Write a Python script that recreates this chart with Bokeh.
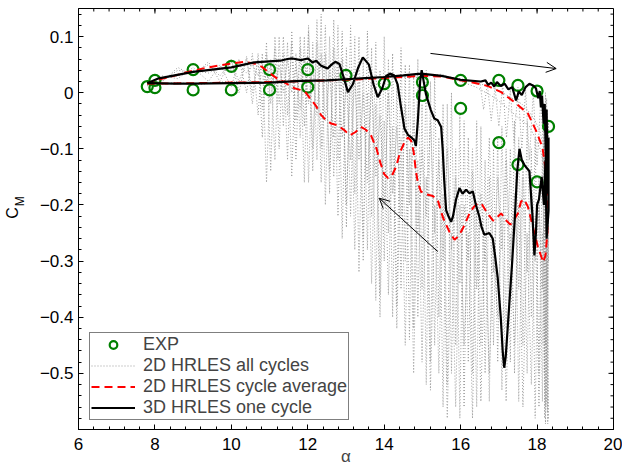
import numpy as np
from bokeh.plotting import figure
from bokeh.layouts import row
from bokeh.models import (Range1d, FixedTicker, CustomJSTickFormatter, Legend,
                          LegendItem, Arrow, OpenHead)
from bokeh.core.properties import value
from bokeh.embed import file_html
from bokeh.resources import INLINE

# ---------------- data ----------------
x_ticks = [6, 8, 10, 12, 14, 16, 18, 20]
y_ticks = [-0.5, -0.4, -0.3, -0.2, -0.1, 0.0, 0.1]

exp_alpha = [7.8, 8.0, 8.0, 9.0, 9.0, 10.0, 10.0, 11.0, 11.0, 12.0, 12.0, 13.0, 14.0,
             15.0, 15.0, 16.0, 16.0, 17.0, 17.0, 17.5, 17.5, 18.0, 18.0, 18.3]
exp_cm = [0.011, 0.009, 0.022, 0.005, 0.041, 0.005, 0.047, 0.005, 0.041, 0.010, 0.041, 0.031,
          0.016, 0.019, -0.005, 0.022, -0.028, 0.022, -0.089, 0.013, -0.128, 0.003, -0.159, -0.060]

# 2D HRLES all cycles (gray dotted) - downstroke traces share this alpha list
gray_alpha = [18.30, 18.22, 18.14, 18.05, 17.95, 17.85, 17.74, 17.63, 17.52, 17.41, 17.30, 17.19,
              17.08, 16.97, 16.86, 16.75, 16.64, 16.53, 16.42, 16.31, 16.20, 16.09, 15.98, 15.87,
              15.76, 15.65, 15.54, 15.43, 15.32, 15.21, 15.10, 14.99, 14.88, 14.77, 14.66, 14.55,
              14.44, 14.33, 14.22, 14.11, 14.00, 13.89, 13.78, 13.67, 13.56, 13.45, 13.34, 13.23,
              13.12, 13.01, 12.90, 12.79, 12.68, 12.57, 12.46, 12.35, 12.24, 12.13, 12.02, 11.91,
              11.80, 11.69, 11.58, 11.47, 11.36, 11.25, 11.14, 11.03, 10.92, 10.81, 10.70, 10.55,
              10.40, 10.20, 10.00, 9.70, 9.40, 9.00, 8.60, 8.20, 7.80]
gray_c1 = [-0.05, -0.45, -0.10, -0.50, -0.08, -0.40, -0.05, -0.45, -0.08, -0.50, -0.10, -0.42,
           -0.06, -0.48, -0.10, -0.55, -0.12, -0.45, -0.05, -0.50, -0.08, -0.56, -0.04, -0.45,
           0.00, -0.52, -0.02, -0.40, 0.03, -0.48, 0.04, -0.35, 0.06, -0.42, 0.05, -0.30,
           0.08, -0.38, 0.07, -0.25, 0.10, -0.36, 0.09, -0.22, 0.11, -0.30, 0.10, -0.18,
           0.12, -0.24, 0.11, -0.12, 0.13, -0.18, 0.12, -0.10, 0.13, -0.14, 0.11, -0.06,
           0.10, -0.12, 0.09, -0.04, 0.10, -0.10, 0.08, -0.02, 0.07, -0.08, 0.06, 0.00,
           0.06, 0.02, 0.055, 0.03, 0.05, 0.035, 0.04, 0.022, 0.015]
gray_c2 = [-0.58, -0.02, -0.55, -0.15, -0.58, -0.10, -0.50, -0.15, -0.55, -0.05, -0.48, -0.12,
           -0.53, -0.08, -0.45, -0.15, -0.50, -0.06, -0.56, -0.14, -0.48, -0.05, -0.58, -0.10,
           -0.50, -0.02, -0.56, -0.08, -0.45, 0.02, -0.52, -0.02, -0.40, 0.03, -0.44, 0.05,
           -0.35, 0.02, -0.40, 0.06, -0.30, 0.04, -0.37, 0.08, -0.28, 0.06, -0.32, 0.10,
           -0.22, 0.08, -0.26, 0.12, -0.15, 0.10, -0.20, 0.14, -0.12, 0.09, -0.16, 0.10,
           -0.08, 0.07, -0.15, 0.09, -0.06, 0.10, -0.12, 0.06, -0.16, 0.07, -0.04, 0.07,
           0.00, 0.06, 0.01, 0.05, 0.02, 0.045, 0.025, 0.03, 0.012]
gray_c3 = [-0.30, -0.05, -0.35, -0.20, -0.30, -0.15, -0.32, -0.12, -0.35, -0.18, -0.30, -0.10,
           -0.28, -0.15, -0.32, -0.08, -0.30, -0.18, -0.35, -0.10, -0.30, -0.20, -0.34, -0.15,
           -0.28, -0.10, -0.30, -0.12, -0.25, -0.05, -0.22, -0.10, -0.25, -0.05, -0.20, -0.02,
           -0.22, -0.06, -0.18, 0.00, -0.20, -0.04, -0.15, 0.02, -0.16, 0.00, -0.12, 0.03,
           -0.12, 0.02, -0.08, 0.05, -0.08, 0.04, -0.05, 0.07, -0.04, 0.05, -0.02, 0.06,
           -0.03, 0.05, 0.00, 0.06, 0.00, 0.05, 0.01, 0.05, 0.02, 0.05, 0.03, 0.05,
           0.035, 0.05, 0.04, 0.045, 0.035, 0.04, 0.03, 0.025, 0.015]
gray_c4 = [-0.20, -0.59, -0.25, -0.56, -0.22, -0.52, -0.25, -0.56, -0.20, -0.45, -0.25, -0.55,
           -0.22, -0.40, -0.28, -0.50, -0.25, -0.55, -0.20, -0.58, -0.25, -0.45, -0.20, -0.56,
           -0.25, -0.58, -0.18, -0.50, -0.20, -0.53, -0.15, -0.48, -0.12, -0.50, -0.10, -0.45,
           -0.08, -0.42, -0.06, -0.36, -0.05, -0.40, -0.02, -0.34, 0.00, -0.26, 0.02, -0.28,
           0.04, -0.20, 0.06, -0.22, 0.08, -0.14, 0.07, -0.16, 0.09, -0.10, 0.12, -0.16,
           0.08, -0.05, 0.11, -0.12, 0.07, -0.02, 0.10, -0.14, 0.09, -0.03, 0.07, -0.02,
           0.065, 0.00, 0.06, 0.02, 0.055, 0.03, 0.045, 0.02, 0.015]
# upstroke gray traces
gray_up_alpha = [7.8, 8.5, 9.2, 9.9, 10.6, 11.3, 12.0, 12.7, 13.4, 14.1, 14.8, 15.5, 16.0, 16.4,
                 16.8, 17.1, 17.35, 17.6, 17.8, 17.95, 18.08, 18.18, 18.26, 18.3]
gray_up1 = [0.015, 0.016, 0.017, 0.018, 0.019, 0.020, 0.021, 0.023, 0.025, 0.027, 0.030, 0.030,
            0.025, 0.018, 0.010, 0.000, -0.010, -0.020, -0.035, -0.050, -0.070, -0.100, -0.140, -0.200]
gray_up2 = [0.013, 0.018, 0.015, 0.020, 0.017, 0.022, 0.019, 0.025, 0.022, 0.030, 0.027, 0.033,
            0.020, 0.010, -0.005, -0.020, -0.035, -0.050, -0.060, -0.080, -0.100, -0.130, -0.180, -0.250]
# dense band near stall on the upstroke
gray_band_alpha = [16.5, 16.6, 16.7, 16.8, 16.9, 17.0, 17.1, 17.2, 17.3, 17.4, 17.5, 17.6,
                   17.7, 17.8, 17.9, 18.0, 18.1, 18.2]
gray_band_cm = [0.020, -0.030, 0.015, -0.050, 0.010, -0.060, 0.015, -0.080, 0.005, -0.090,
                0.010, -0.100, 0.005, -0.120, 0.000, -0.130, -0.010, -0.150]
# dense stripe at maximum incidence
gray_stripe_alpha = [18.18, 18.20, 18.22, 18.24, 18.26, 18.28, 18.30, 18.27, 18.25, 18.23,
                     18.21, 18.19, 18.17, 18.15]
gray_stripe_cm = [-0.02, -0.58, 0.00, -0.55, -0.03, -0.59, -0.05, -0.57, -0.01, -0.56,
                  -0.04, -0.50, -0.02, -0.45]

# 2D HRLES cycle average (red dashed)
avg_alpha = [7.80, 9.0, 10.0, 11.0, 12.0, 13.0, 14.0, 15.0, 15.5, 16.0, 16.4, 16.71, 17.06, 17.41,
             17.76, 17.97, 18.14, 18.24, 18.28, 18.27, 18.22, 18.16,
             18.10, 18.02, 17.89, 17.76, 17.66, 17.58, 17.50, 17.41, 17.30, 17.20, 17.06, 16.95,
             16.85, 16.70, 16.55, 16.45, 16.35, 16.25, 16.15, 16.05, 15.95, 15.84, 15.72, 15.62,
             15.53, 15.40, 15.27, 15.10, 14.96, 14.88, 14.83, 14.77, 14.70, 14.62, 14.52, 14.42,
             14.31, 14.20, 14.10, 14.00, 13.90, 13.80, 13.66, 13.52, 13.39, 13.25, 13.10, 12.96,
             12.78, 12.61, 12.45, 12.35, 12.20, 12.08, 11.95, 11.80, 11.65, 11.40, 11.20, 11.00,
             10.80, 10.60, 10.34, 10.00, 9.38, 8.86, 8.50, 8.00, 7.80]
avg_cm = [0.016, 0.017, 0.018, 0.019, 0.021, 0.023, 0.026, 0.030, 0.029, 0.022, 0.017, 0.012,
          0.001, -0.017, -0.037, -0.067, -0.097, -0.144, -0.191, -0.250, -0.290, -0.302,
          -0.290, -0.274, -0.239, -0.203, -0.190, -0.194, -0.215, -0.225, -0.235, -0.228,
          -0.215, -0.222, -0.228, -0.215, -0.198, -0.197, -0.203, -0.212, -0.228, -0.243,
          -0.255, -0.262, -0.250, -0.235, -0.221, -0.191, -0.184, -0.181, -0.176, -0.160,
          -0.140, -0.105, -0.085, -0.080, -0.090, -0.105, -0.132, -0.148, -0.152, -0.145,
          -0.125, -0.100, -0.077, -0.066, -0.061, -0.070, -0.076, -0.067, -0.058, -0.055,
          -0.047, -0.040, -0.022, -0.012, 0.000, 0.005, 0.008, 0.018, 0.025, 0.035, 0.046,
          0.052, 0.055, 0.052, 0.045, 0.037, 0.030, 0.022, 0.016]

# 3D HRLES one cycle (black solid)
c3d_alpha = [7.80, 8.5, 9.0, 10.0, 11.0, 11.82, 12.5, 13.0, 13.5, 14.0, 14.5, 14.96, 15.5, 16.0,
             16.53, 16.65, 16.72, 16.80, 16.88, 16.95, 17.05, 17.15, 17.25, 17.35, 17.45, 17.52,
             17.60, 17.70, 17.80, 17.89, 17.97, 18.03, 18.07, 18.10, 18.13, 18.17, 18.20, 18.23,
             18.25, 18.28, 18.30, 18.30,
             18.25, 18.22, 18.18, 18.12, 18.05, 18.00, 17.97, 17.93, 17.88, 17.80, 17.68, 17.60,
             17.54, 17.48, 17.42, 17.35, 17.25, 17.18, 17.14, 17.10, 17.05, 16.97, 16.90, 16.84,
             16.75, 16.62, 16.55, 16.49, 16.40, 16.32, 16.23, 16.14, 16.05, 15.97, 15.88, 15.80,
             15.75, 15.68, 15.62, 15.57, 15.53, 15.49, 15.40, 15.31, 15.22, 15.09, 15.02, 14.98,
             14.94, 14.88, 14.83, 14.79, 14.70, 14.62, 14.53, 14.44, 14.35, 14.26, 14.15, 14.05,
             13.95, 13.83, 13.72, 13.60, 13.44, 13.32, 13.18, 13.05, 12.95, 12.83, 12.72, 12.62,
             12.52, 12.42, 12.35, 12.22, 12.12, 12.00, 11.82, 11.60, 11.47, 11.28, 10.60, 10.00,
             9.00, 8.07, 7.80]
c3d_cm = [0.017, 0.016, 0.016, 0.017, 0.018, 0.021, 0.022, 0.024, 0.026, 0.028, 0.031, 0.034,
          0.030, 0.023, 0.020, 0.022, 0.014, 0.018, 0.011, 0.019, 0.012, 0.016, 0.006, 0.010,
          -0.014, 0.002, -0.004, 0.010, 0.016, 0.013, 0.008, -0.010, 0.003, -0.026, -0.005,
          -0.055, -0.020, -0.120, -0.030, -0.180, -0.080, -0.210,
          -0.260, -0.120, -0.200, -0.150, -0.190, -0.200, -0.250, -0.290, -0.220, -0.140,
          -0.130, -0.120, -0.100, -0.140, -0.220, -0.300, -0.400, -0.470, -0.490, -0.460,
          -0.400, -0.330, -0.290, -0.260, -0.250, -0.253, -0.240, -0.221, -0.200, -0.176,
          -0.179, -0.173, -0.180, -0.170, -0.190, -0.220, -0.230, -0.220, -0.209, -0.156,
          -0.100, -0.061, -0.049, -0.046, -0.031, -0.002, 0.025, 0.040, 0.020, -0.050,
          -0.095, -0.085, -0.079, -0.075, -0.064, -0.026, 0.015, 0.031, 0.034, 0.030, 0.008,
          -0.008, 0.015, 0.050, 0.063, 0.045, 0.015, 0.001, 0.025, 0.051, 0.055, 0.050,
          0.043, 0.046, 0.048, 0.057, 0.054, 0.061, 0.058, 0.061, 0.060, 0.057, 0.054, 0.045,
          0.037, 0.025, 0.017]

# direction arrows: (alpha_start, cm_start, alpha_end, cm_end)
arrow_up = (15.21, 0.070, 18.50, 0.043)
arrow_down = (15.40, -0.283, 13.87, -0.188)

# ---------------- layout constants ----------------
FONT = "Liberation Sans"
X0, X1, Y0, Y1 = 6, 20, -0.6, 0.15
LABEL_W = 30                      # width of the strip holding the rotated C_M label
FRAME_W, FRAME_H = 535, 421
BORDER_L, BORDER_R, BORDER_T, BORDER_B = 48, 9, 8, 40
MAJ_LEN, MIN_LEN = 5, 3            # tick lengths, px

p = figure(width=FRAME_W + BORDER_L + BORDER_R, height=FRAME_H + BORDER_T + BORDER_B,
           output_backend="svg", toolbar_location=None,
           x_range=Range1d(X0, X1), y_range=Range1d(Y0, Y1),
           min_border_left=BORDER_L, min_border_right=BORDER_R,
           min_border_top=BORDER_T, min_border_bottom=BORDER_B)
p.grid.visible = False
p.outline_line_color = "black"
p.outline_line_width = 1
p.background_fill_color = "white"
p.border_fill_color = "white"

x_minor = [round(v, 2) for v in np.arange(6, 20.001, 0.4)]
y_minor = [round(v, 3) for v in np.arange(-0.6, 0.1501, 0.02)]
p.xaxis.ticker = FixedTicker(ticks=x_ticks, minor_ticks=x_minor)
p.yaxis.ticker = FixedTicker(ticks=y_ticks, minor_ticks=y_minor)
p.xaxis.formatter = CustomJSTickFormatter(code="return tick.toFixed(0);")
p.yaxis.formatter = CustomJSTickFormatter(code="""
    if (Math.abs(tick) < 1e-9) { return "0"; }
    return tick.toFixed(1).replace("-", "\\u2212");
""")
for ax in (p.xaxis[0], p.yaxis[0]):
    ax.axis_line_color = "black"
    ax.major_tick_in = MAJ_LEN
    ax.major_tick_out = 0
    ax.minor_tick_in = MIN_LEN
    ax.minor_tick_out = 0
    ax.major_tick_line_color = "black"
    ax.minor_tick_line_color = "black"
    ax.major_label_text_font = FONT
    ax.major_label_text_font_size = "17px"
    ax.major_label_text_color = "black"
p.xaxis.major_label_standoff = 8
p.yaxis.major_label_standoff = 5
p.xaxis.axis_label = "α"
p.xaxis.axis_label_text_font = FONT
p.xaxis.axis_label_text_font_size = "17px"
p.xaxis.axis_label_text_font_style = "normal"
p.xaxis.axis_label_standoff = -6

# mirrored ticks on the top and right frame edges
dx_px = (X1 - X0) / FRAME_W
dy_px = (Y1 - Y0) / FRAME_H
tick_kw = dict(line_color="black", line_width=1)
p.segment(x0=x_ticks, y0=[Y1] * len(x_ticks), x1=x_ticks,
          y1=[Y1 - MAJ_LEN * dy_px] * len(x_ticks), **tick_kw)
p.segment(x0=x_minor, y0=[Y1] * len(x_minor), x1=x_minor,
          y1=[Y1 - MIN_LEN * dy_px] * len(x_minor), **tick_kw)
p.segment(x0=[X1] * len(y_ticks), y0=y_ticks, x1=[X1 - MAJ_LEN * dx_px] * len(y_ticks),
          y1=y_ticks, **tick_kw)
p.segment(x0=[X1] * len(y_minor), y0=y_minor, x1=[X1 - MIN_LEN * dx_px] * len(y_minor),
          y1=y_minor, **tick_kw)

# gray traces
gray_kw = dict(line_color="#9a9a9a", line_width=1, line_dash="1 2")
g_xs = [gray_alpha, gray_alpha, gray_alpha, gray_alpha, gray_up_alpha, gray_up_alpha,
        gray_band_alpha, gray_stripe_alpha]
g_ys = [gray_c1, gray_c2, gray_c3, gray_c4, gray_up1, gray_up2, gray_band_cm, gray_stripe_cm]
r_gray = p.multi_line(xs=g_xs, ys=g_ys, **gray_kw)

r_exp = p.scatter(exp_alpha, exp_cm, marker="circle", size=11, line_width=2.2,
                  line_color="#008000", fill_color=None)
r_avg = p.line(avg_alpha, avg_cm, line_color="#ff0000", line_width=2, line_dash="8 5")
r_3d = p.line(c3d_alpha, c3d_cm, line_color="black", line_width=2.2)

for a in (arrow_up, arrow_down):
    p.add_layout(Arrow(x_start=a[0], y_start=a[1], x_end=a[2], y_end=a[3],
                       line_color="black", line_width=1,
                       end=OpenHead(size=10, line_color="black", line_width=1)))

legend = Legend(items=[LegendItem(label="EXP", renderers=[r_exp]),
                       LegendItem(label="2D HRLES all cycles", renderers=[r_gray]),
                       LegendItem(label="2D HRLES cycle average", renderers=[r_avg]),
                       LegendItem(label="3D HRLES one cycle", renderers=[r_3d])],
                location=(11, 9), label_text_font=FONT, label_text_font_size="18px",
                label_height=19, glyph_height=19, glyph_width=44, spacing=0, padding=1,
                margin=0, label_standoff=8, border_line_color="black", border_line_width=1,
                background_fill_alpha=1.0)
p.add_layout(legend)

# strip on the left carrying the rotated y label C_M (C with subscript M)
H = FRAME_H + BORDER_T + BORDER_B
lf = figure(width=LABEL_W, height=H, output_backend="svg", toolbar_location=None,
            x_range=Range1d(0, LABEL_W), y_range=Range1d(0, H),
            min_border=0, min_border_left=0, min_border_right=0,
            min_border_top=0, min_border_bottom=0)
lf.axis.visible = False
lf.grid.visible = False
lf.outline_line_color = None
lf.background_fill_color = "white"
lf.border_fill_color = "white"
lf.text(x=[11.5], y=[H - 227.8], text=["C"], angle=np.pi / 2, text_font=value(FONT),
        text_font_size="16px", text_align="center", text_baseline="middle", text_color="black")
lf.text(x=[19.0], y=[H - 214.7], text=["M"], angle=np.pi / 2, text_font=value(FONT),
        text_font_size="12px", text_align="center", text_baseline="middle", text_color="black")

layout = row(lf, p, spacing=0)
open("out.html", "w").write(file_html(layout, INLINE))
